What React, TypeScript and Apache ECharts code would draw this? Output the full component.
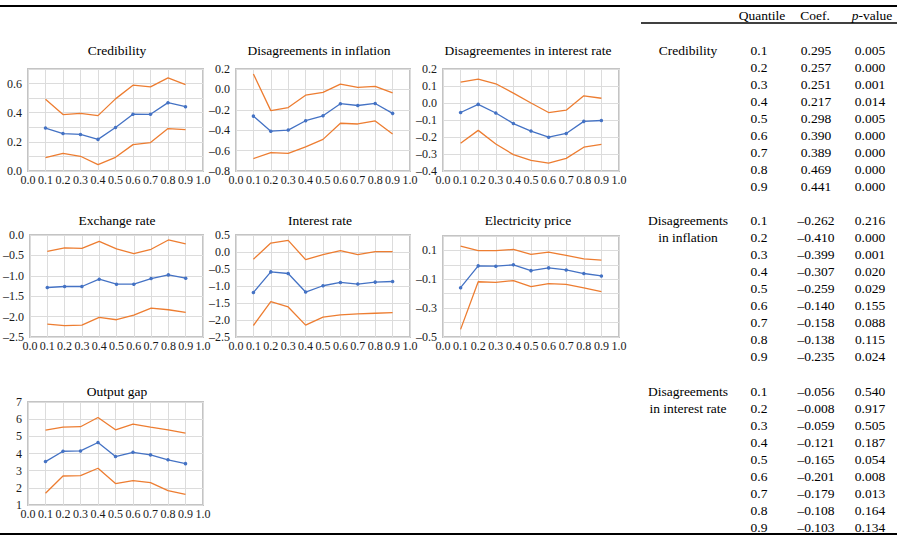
import React, { useEffect, useRef } from "react";
import * as echarts from "echarts";

// ---------- data ----------
const quantiles = [0.1, 0.2, 0.3, 0.4, 0.5, 0.6, 0.7, 0.8, 0.9];
const xTicks = [0, 0.1, 0.2, 0.3, 0.4, 0.5, 0.6, 0.7, 0.8, 0.9, 1.0];

const credCoef = [0.295, 0.257, 0.251, 0.217, 0.298, 0.39, 0.389, 0.469, 0.441];
const credP = [0.005, 0.0, 0.001, 0.014, 0.005, 0.0, 0.0, 0.0, 0.0];
const credUpper = [0.492, 0.387, 0.396, 0.38, 0.495, 0.589, 0.577, 0.639, 0.593];
const credLower = [0.092, 0.121, 0.101, 0.044, 0.094, 0.181, 0.195, 0.291, 0.284];

const inflCoef = [-0.262, -0.41, -0.399, -0.307, -0.259, -0.14, -0.158, -0.138, -0.235];
const inflP = [0.216, 0.0, 0.001, 0.02, 0.029, 0.155, 0.088, 0.115, 0.024];
const inflUpper = [0.151, -0.208, -0.178, -0.057, -0.03, 0.052, 0.019, 0.029, -0.034];
const inflLower = [-0.678, -0.619, -0.628, -0.563, -0.49, -0.332, -0.339, -0.309, -0.438];

const rateDisCoef = [-0.056, -0.008, -0.059, -0.121, -0.165, -0.201, -0.179, -0.108, -0.103];
const rateDisP = [0.54, 0.917, 0.505, 0.187, 0.054, 0.008, 0.013, 0.164, 0.134];
const rateDisUpper = [0.123, 0.141, 0.113, 0.058, 0.0, -0.056, -0.042, 0.042, 0.028];
const rateDisLower = [-0.237, -0.161, -0.241, -0.304, -0.338, -0.354, -0.326, -0.26, -0.243];

const fxCoef = [-1.287, -1.262, -1.262, -1.083, -1.205, -1.205, -1.067, -0.977, -1.059];
const fxUpper = [-0.399, -0.318, -0.326, -0.155, -0.342, -0.456, -0.35, -0.122, -0.22];
const fxLower = [-2.182, -2.223, -2.207, -2.02, -2.077, -1.963, -1.792, -1.832, -1.897];

const irCoef = [-1.19, -0.585, -0.633, -1.178, -0.993, -0.896, -0.944, -0.886, -0.867];
const irUpper = [-0.214, 0.263, 0.341, -0.224, -0.078, 0.039, -0.078, 0.01, 0.01];
const irLower = [-2.162, -1.461, -1.616, -2.152, -1.918, -1.85, -1.821, -1.801, -1.782];

const elecCoef = [-0.158, -0.007, -0.009, 0.0, -0.04, -0.021, -0.035, -0.06, -0.077];
const elecUpper = [0.13, 0.098, 0.098, 0.107, 0.072, 0.088, 0.065, 0.042, 0.033];
const elecLower = [-0.447, -0.117, -0.121, -0.109, -0.151, -0.13, -0.135, -0.16, -0.186];

const gapCoef = [3.53, 4.13, 4.15, 4.64, 3.82, 4.07, 3.92, 3.63, 3.41];
const gapUpper = [5.36, 5.54, 5.56, 6.1, 5.38, 5.71, 5.54, 5.38, 5.19];
const gapLower = [1.68, 2.69, 2.71, 3.14, 2.25, 2.42, 2.3, 1.84, 1.62];

const panelTitles = [
  "Credibility",
  "Disagreements in inflation",
  "Disagreementes in interest rate",
  "Exchange rate",
  "Interest rate",
  "Electricity price",
  "Output gap",
];
const tableHeader = ["Quantile", "Coef.", "p-value"];
const tableGroups = [
  { label: ["Credibility"], coef: credCoef, p: credP },
  { label: ["Disagreements", "in inflation"], coef: inflCoef, p: inflP },
  { label: ["Disagreements", "in interest rate"], coef: rateDisCoef, p: rateDisP },
];

// ---------- layout ----------
const FONT = "Liberation Serif";
const BLUE = "#4472C4";
const ORANGE = "#ED7D31";
const TXT = 13.5;

const panels = [
  { rect: [28, 69, 175, 102], min: 0, max: 0.7, interval: 0.1, step: 2, dec: 1, c: credCoef, u: credUpper, l: credLower, tx: 117, ty: 50 },
  { rect: [236, 69, 174, 102], min: -0.8, max: 0.2, interval: 0.2, step: 1, dec: 1, c: inflCoef, u: inflUpper, l: inflLower, tx: 319, ty: 50 },
  { rect: [443, 69, 176, 102], min: -0.4, max: 0.2, interval: 0.1, step: 1, dec: 1, c: rateDisCoef, u: rateDisUpper, l: rateDisLower, tx: 528, ty: 50 },
  { rect: [28, 235, 175, 102], min: -2.5, max: 0, interval: 0.5, step: 1, dec: 1, c: fxCoef, u: fxUpper, l: fxLower, tx: 117, ty: 220 },
  { rect: [236, 235, 174, 102], min: -2.5, max: 0.5, interval: 0.5, step: 1, dec: 1, c: irCoef, u: irUpper, l: irLower, tx: 320, ty: 220 },
  { rect: [443, 236, 176, 101], min: -0.5, max: 0.2, interval: 0.1, step: 2, dec: 1, c: elecCoef, u: elecUpper, l: elecLower, tx: 528, ty: 220 },
  { rect: [28, 402, 175, 103], min: 1, max: 7, interval: 1, step: 1, dec: 0, c: gapCoef, u: gapUpper, l: gapLower, tx: 117, ty: 391 },
];

const fmtNum = (v: number, d: number) => {
  let s = v.toFixed(d);
  if (parseFloat(s) === 0) s = (0).toFixed(d);
  return s.replace("-", "\u2013");
};

function text(x: number, y: number, t: string, align = "center", size = TXT) {
  return {
    type: "text",
    x,
    y,
    silent: true,
    style: {
      text: t,
      fontSize: size,
      fontFamily: FONT,
      fill: "#000",
      align,
      verticalAlign: "middle",
      textAlign: align,
      textVerticalAlign: "middle",
    },
  };
}

function buildOption() {
  const grid: any[] = [];
  const xAxis: any[] = [];
  const yAxis: any[] = [];
  const series: any[] = [];
  const graphic: any[] = [];

  panels.forEach((p, i) => {
    grid.push({
      left: p.rect[0],
      top: p.rect[1],
      width: p.rect[2],
      height: p.rect[3],
      show: true,
      borderColor: "#c4c4c4",
      borderWidth: 2,
      backgroundColor: "transparent",
    });
    xAxis.push({
      type: "value",
      gridIndex: i,
      min: xTicks[0],
      max: xTicks[xTicks.length - 1],
      interval: 0.1,
      axisLine: { show: false },
      axisTick: { show: false },
      splitLine: { show: true, lineStyle: { color: "#dcdcdc", width: 1 } },
      axisLabel: {
        margin: 3,
        fontFamily: FONT,
        fontSize: 12,
        color: "#1a1a1a",
        formatter: (v: number) => v.toFixed(1),
      },
    });
    yAxis.push({
      type: "value",
      gridIndex: i,
      min: p.min,
      max: p.max,
      interval: p.interval,
      axisLine: { show: false },
      axisTick: { show: false },
      splitLine: { show: true, lineStyle: { color: "#dcdcdc", width: 1 } },
      axisLabel: {
        margin: 6,
        fontFamily: FONT,
        fontSize: 12,
        color: "#1a1a1a",
        formatter: (v: number) => {
          const k = Math.round((v - p.min) / p.interval);
          if (k % p.step !== 0) return "";
          return fmtNum(v, p.dec);
        },
      },
    });
    const mk = (arr: number[]) => quantiles.map((q, j) => [q, arr[j]]);
    series.push({
      type: "line",
      xAxisIndex: i,
      yAxisIndex: i,
      data: mk(p.u),
      showSymbol: false,
      symbol: "none",
      lineStyle: { color: ORANGE, width: 1.3 },
      itemStyle: { color: ORANGE },
    });
    series.push({
      type: "line",
      xAxisIndex: i,
      yAxisIndex: i,
      data: mk(p.l),
      showSymbol: false,
      symbol: "none",
      lineStyle: { color: ORANGE, width: 1.3 },
      itemStyle: { color: ORANGE },
    });
    series.push({
      type: "line",
      xAxisIndex: i,
      yAxisIndex: i,
      data: mk(p.c),
      symbol: "circle",
      symbolSize: 3.5,
      lineStyle: { color: BLUE, width: 1.3 },
      itemStyle: { color: BLUE },
    });
    graphic.push(text(p.tx, p.ty, panelTitles[i]));
  });

  // table rules
  graphic.push({ type: "line", silent: true, shape: { x1: 0, y1: 6, x2: 897, y2: 6 }, style: { stroke: "#000", lineWidth: 2 } });
  graphic.push({ type: "line", silent: true, shape: { x1: 641, y1: 23, x2: 897, y2: 23 }, style: { stroke: "#000", lineWidth: 1.5 } });
  graphic.push({ type: "line", silent: true, shape: { x1: 0, y1: 534, x2: 897, y2: 534 }, style: { stroke: "#000", lineWidth: 2 } });

  // header
  graphic.push(text(762, 15, tableHeader[0]));
  graphic.push(text(815, 15, tableHeader[1]));
  graphic.push({
    type: "text",
    x: 872,
    y: 15,
    silent: true,
    style: {
      text: "{i|p}{n|" + tableHeader[2].slice(1) + "}",
      align: "center",
      verticalAlign: "middle",
      textAlign: "center",
      textVerticalAlign: "middle",
      fontSize: TXT,
      fontFamily: FONT,
      fill: "#000",
      rich: {
        i: { fontStyle: "italic", fontSize: TXT, fontFamily: FONT, fill: "#000", color: "#000" },
        n: { fontSize: TXT, fontFamily: FONT, fill: "#000", color: "#000" },
      },
    },
  });

  const groupTop = [50, 220, 391];
  tableGroups.forEach((g, gi) => {
    const y0 = groupTop[gi];
    g.label.forEach((lab, li) => graphic.push(text(688, y0 + li * 17, lab)));
    quantiles.forEach((q, j) => {
      const y = y0 + j * 17;
      graphic.push(text(759, y, q.toFixed(1)));
      graphic.push(text(816, y, fmtNum(g.coef[j], 3)));
      graphic.push(text(870, y, g.p[j].toFixed(3)));
    });
  });

  return {
    animation: false,
    backgroundColor: "#fff",
    grid,
    xAxis,
    yAxis,
    series,
    graphic,
  };
}

export default function App() {
  const ref = useRef<HTMLDivElement>(null);
  useEffect(() => {
    if (!ref.current) return;
    const chart = echarts.init(ref.current, undefined, { renderer: "svg" });
    chart.setOption(buildOption() as any);
    return () => chart.dispose();
  }, []);
  return (
    <div
      ref={ref}
      style={{ position: "fixed", left: 0, top: 0, width: 897, height: 536, background: "#fff" }}
    />
  );
}
